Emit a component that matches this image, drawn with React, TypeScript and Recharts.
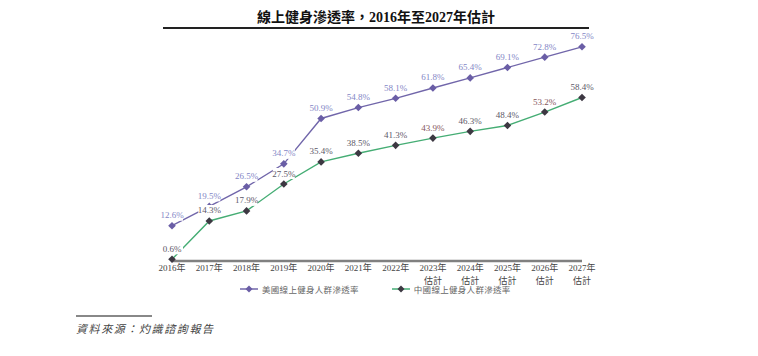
import { LineChart, Line, XAxis, YAxis, LabelList } from 'recharts'

// 年份與預測標記
const years = ['2016年', '2017年', '2018年', '2019年', '2020年', '2021年', '2022年', '2023年', '2024年', '2025年', '2026年', '2027年']
const estimateNote = ['', '', '', '', '', '', '', '估計', '估計', '估計', '估計', '估計']

// 滲透率 (%)
const usRate = [12.6, 19.5, 26.5, 34.7, 50.9, 54.8, 58.1, 61.8, 65.4, 69.1, 72.8, 76.5]
const cnRate = [0.6, 14.3, 17.9, 27.5, 35.4, 38.5, 41.3, 43.9, 46.3, 48.4, 53.2, 58.4]

const seriesNames = ['美國線上健身人群滲透率', '中國線上健身人群滲透率']

const FONT = "'Liberation Serif', 'DejaVu Serif', 'Noto Sans CJK TC', serif"
const US_LINE = '#7166aa'
const US_DOT = '#6a5ea6'
const US_LABEL = '#8386c6'
const CN_LINE = '#45ad74'
const CN_DOT = '#3d3842'
const CN_LABEL = '#5c5868'
const CN_LABEL_ALT = '#85565c'

const data = years.map((year, i) => ({
  year,
  note: estimateNote[i],
  us: usRate[i],
  cn: cnRate[i],
}))

const Diamond = ({ cx, cy, fill }: any) => {
  if (cx == null || cy == null) return null
  const r = 3.8
  return (
    <polygon
      points={`${cx},${cy - r} ${cx + r},${cy} ${cx},${cy + r} ${cx - r},${cy}`}
      fill={fill}
    />
  )
}

const makeLabel = (colorFor: (i: number) => string) => (props: any) => {
  const { x, y, value, index } = props
  const text = `${value.toFixed(1)}%`
  const w = 22
  return (
    <g>
      <rect x={x - w / 2} y={y - 16} width={w} height={11} fill="#fff" />
      <text
        x={x}
        y={y - 7.5}
        textAnchor="middle"
        fontSize={9}
        fontFamily={FONT}
        fill={colorFor(index)}
      >
        {text}
      </text>
    </g>
  )
}

const YearTick = ({ x, y, payload, index }: any) => (
  <g>
    <text x={x} y={y + 2} textAnchor="middle" fontSize={9} fontFamily={FONT} fill="#444">
      {payload.value}
    </text>
    {estimateNote[index] && (
      <text x={x} y={y + 15} textAnchor="middle" fontSize={9} fontFamily={FONT} fill="#444">
        {estimateNote[index]}
      </text>
    )}
  </g>
)

const LegendIcon = ({ line, dot }: { line: string; dot: string }) => (
  <svg width={18} height={8} style={{ marginRight: 4 }}>
    <line x1={0} y1={4} x2={18} y2={4} stroke={line} strokeWidth={1.5} />
    <polygon points="9,0.5 12.5,4 9,7.5 5.5,4" fill={dot} />
  </svg>
)

export default function App() {
  return (
    <div
      style={{
        position: 'absolute',
        left: 0,
        top: 0,
        width: 758,
        height: 356,
        background: '#fff',
        fontFamily: FONT,
      }}
    >
      <div
        style={{
          position: 'absolute',
          left: 163,
          width: 426,
          top: 6,
          textAlign: 'center',
          fontSize: 14,
          fontWeight: 'bold',
          color: '#111',
        }}
      >
        線上健身滲透率，2016年至2027年估計
      </div>
      <div style={{ position: 'absolute', left: 163, top: 27, width: 426, height: 1.5, background: '#222' }} />

      <LineChart
        width={758}
        height={356}
        data={data}
        margin={{ top: 37, right: 176, left: 172, bottom: 65 }}
        style={{ position: 'absolute', left: 0, top: 0 }}
      >
        <XAxis
          dataKey="year"
          height={30}
          interval={0}
          tickLine={false}
          axisLine={{ stroke: '#808080', strokeWidth: 2.5 }}
          tick={<YearTick />}
        />
        <YAxis hide domain={[0, 80]} />
        <Line
          dataKey="us"
          stroke={US_LINE}
          strokeWidth={1.4}
          dot={<Diamond fill={US_DOT} />}
          activeDot={false}
          isAnimationActive={false}
        >
          <LabelList dataKey="us" content={makeLabel(() => US_LABEL)} />
        </Line>
        <Line
          dataKey="cn"
          stroke={CN_LINE}
          strokeWidth={1.4}
          dot={<Diamond fill={CN_DOT} />}
          activeDot={false}
          isAnimationActive={false}
        >
          <LabelList
            dataKey="cn"
            content={makeLabel((i) => (i === 7 || i === 10 ? CN_LABEL_ALT : CN_LABEL))}
          />
        </Line>
      </LineChart>

      <div
        style={{
          position: 'absolute',
          top: 283,
          left: 240,
          display: 'flex',
          alignItems: 'center',
          fontSize: 8.5,
          color: '#666',
          letterSpacing: 0.3,
        }}
      >
        <LegendIcon line={US_LINE} dot={US_DOT} />
        <span style={{ marginRight: 33 }}>{seriesNames[0]}</span>
        <LegendIcon line={CN_LINE} dot={CN_DOT} />
        <span>{seriesNames[1]}</span>
      </div>

      <div style={{ position: 'absolute', left: 76, top: 315, width: 76, height: 2, background: '#888' }} />
      <div
        style={{
          position: 'absolute',
          left: 76,
          top: 320,
          fontSize: 11,
          fontStyle: 'italic',
          letterSpacing: 1.6,
          color: '#444',
        }}
      >
        資料來源：灼識諮詢報告
      </div>
    </div>
  )
}
